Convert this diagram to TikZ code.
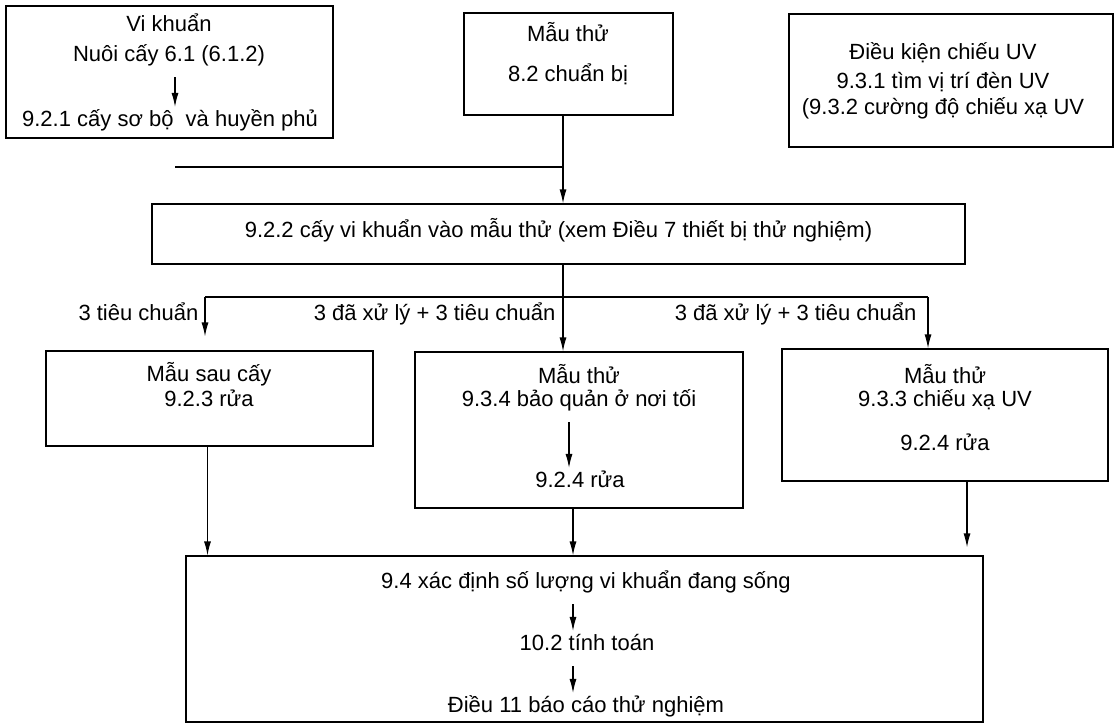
\documentclass[tikz,border=0pt]{standalone}
\usepackage{fontspec}
\setmainfont{Liberation Sans}
\usetikzlibrary{arrows.meta, positioning}

\begin{document}
\begin{tikzpicture}[
    x=1pt, y=-1pt, line width=1.2pt,
    every node/.style={font=\fontsize{22}{26}\selectfont, inner sep=2pt, text height=14pt, text depth=7pt},
    box/.style={draw},
    arr/.style={-{Latex[length=14pt,width=7pt]}},
    inarr/.style={arr, shorten <=6pt, shorten >=3pt}
  ]
  \useasboundingbox (0,0) rectangle (1118,724);

  \node[box, minimum width=327, minimum height=132] (vikhuan) at (169.5,72) {};
  \node (vikhuan1) at (169,28) {Vi khuẩn};
  \node (vikhuan2) at (169,58) {Nuôi cấy 6.1 (6.1.2)};
  \node (vikhuan3) at (170,123) {9.2.1 cấy sơ bộ\ \ và huyền phủ};

  \node[box, minimum width=209, minimum height=102] (mauthu) at (568.5,64) {};
  \node (mauthu1) at (568,38) {Mẫu thử};
  \node (mauthu2) at (568,78) {8.2 chuẩn bị};

  \node[box, minimum width=324, minimum height=133] (dieukien) at (951,80.5) {};
  \node (dieukien1) at (943,56) {Điều kiện chiếu UV};
  \node (dieukien2) at (943,85) {9.3.1 tìm vị trí đèn UV};
  \node (dieukien3) at (943,111) {(9.3.2 cường độ chiếu xạ UV};

  \node[box, minimum width=813, minimum height=60] (caymau) at (558.5,234) {9.2.2 cấy vi khuẩn vào mẫu thử (xem Điều 7 thiết bị thử nghiệm)};

  \node[box, minimum width=327, minimum height=95] (mausau) at (209.5,398.5) {};
  \node (mausau1) at (209,378) {Mẫu sau cấy};
  \node (mausau2) at (209,403) {9.2.3 rửa};

  \node[box, minimum width=328, minimum height=156] (baoquan) at (579,430) {};
  \node (baoquan1) at (579,380) {Mẫu thử};
  \node (baoquan2) at (579,403) {9.3.4 bảo quản ở nơi tối};
  \node (baoquan3) at (580,484) {9.2.4 rửa};

  \node[box, minimum width=326, minimum height=132] (chieuxa) at (945,415) {};
  \node (chieuxa1) at (945,380) {Mẫu thử};
  \node (chieuxa2) at (945,403) {9.3.3 chiếu xạ UV};
  \node (chieuxa3) at (945,447) {9.2.4 rửa};

  \node[box, minimum width=797, minimum height=166] (xacdinh) at (584.5,639) {};
  \node (xacdinh1) at (586,585) {9.4 xác định số lượng vi khuẩn đang sống};
  \node (xacdinh2) at (587,647) {10.2 tính toán};
  \node (xacdinh3) at (586,709) {Điều 11 báo cáo thử nghiệm};

  \coordinate (truc) at (563,0);
  \coordinate (noi) at (175,167);
  \coordinate (nhanh1) at (205,297);
  \coordinate (nhanh2) at (928,297);

  \draw[inarr] ([xshift=6]vikhuan2.south) -- ([xshift=5]vikhuan3.north);
  \draw[inarr] ([xshift=-10]baoquan2.south) -- ([xshift=-11]baoquan3.north);
  \draw[inarr] ([xshift=-13]xacdinh1.south) -- ([xshift=-14]xacdinh2.north);
  \draw[inarr] ([xshift=-14]xacdinh2.south) -- ([xshift=-13]xacdinh3.north);

  \draw (noi) -- (noi -| truc);
  \draw[arr] (mauthu.south -| truc) -- (caymau.north -| truc);
  \draw[arr] (caymau.south -| truc) -- (baoquan.north -| truc);
  \draw (nhanh1) -- (nhanh2);
  \draw[arr, shorten >=14pt] (nhanh1) -- (nhanh1 |- mausau.north);
  \draw[arr] (nhanh2) -- (nhanh2 |- chieuxa.north);

  \node[anchor=east] (nhan1) at (201,317) {3 tiêu chuẩn};
  \node[anchor=east] (nhan2) at (558,317) {3 đã xử lý + 3 tiêu chuẩn};
  \node[anchor=east] (nhan3) at (919,317) {3 đã xử lý + 3 tiêu chuẩn};

  \draw[arr] ([xshift=-2]mausau.south) -- ([xshift=-2]mausau.south |- xacdinh.north);
  \draw[arr] ([xshift=-6]baoquan.south) -- ([xshift=-6]baoquan.south |- xacdinh.north);
  \draw[arr, shorten >=8pt] ([xshift=22]chieuxa.south) -- ([xshift=22]chieuxa.south |- xacdinh.north);
\end{tikzpicture}
\end{document}
